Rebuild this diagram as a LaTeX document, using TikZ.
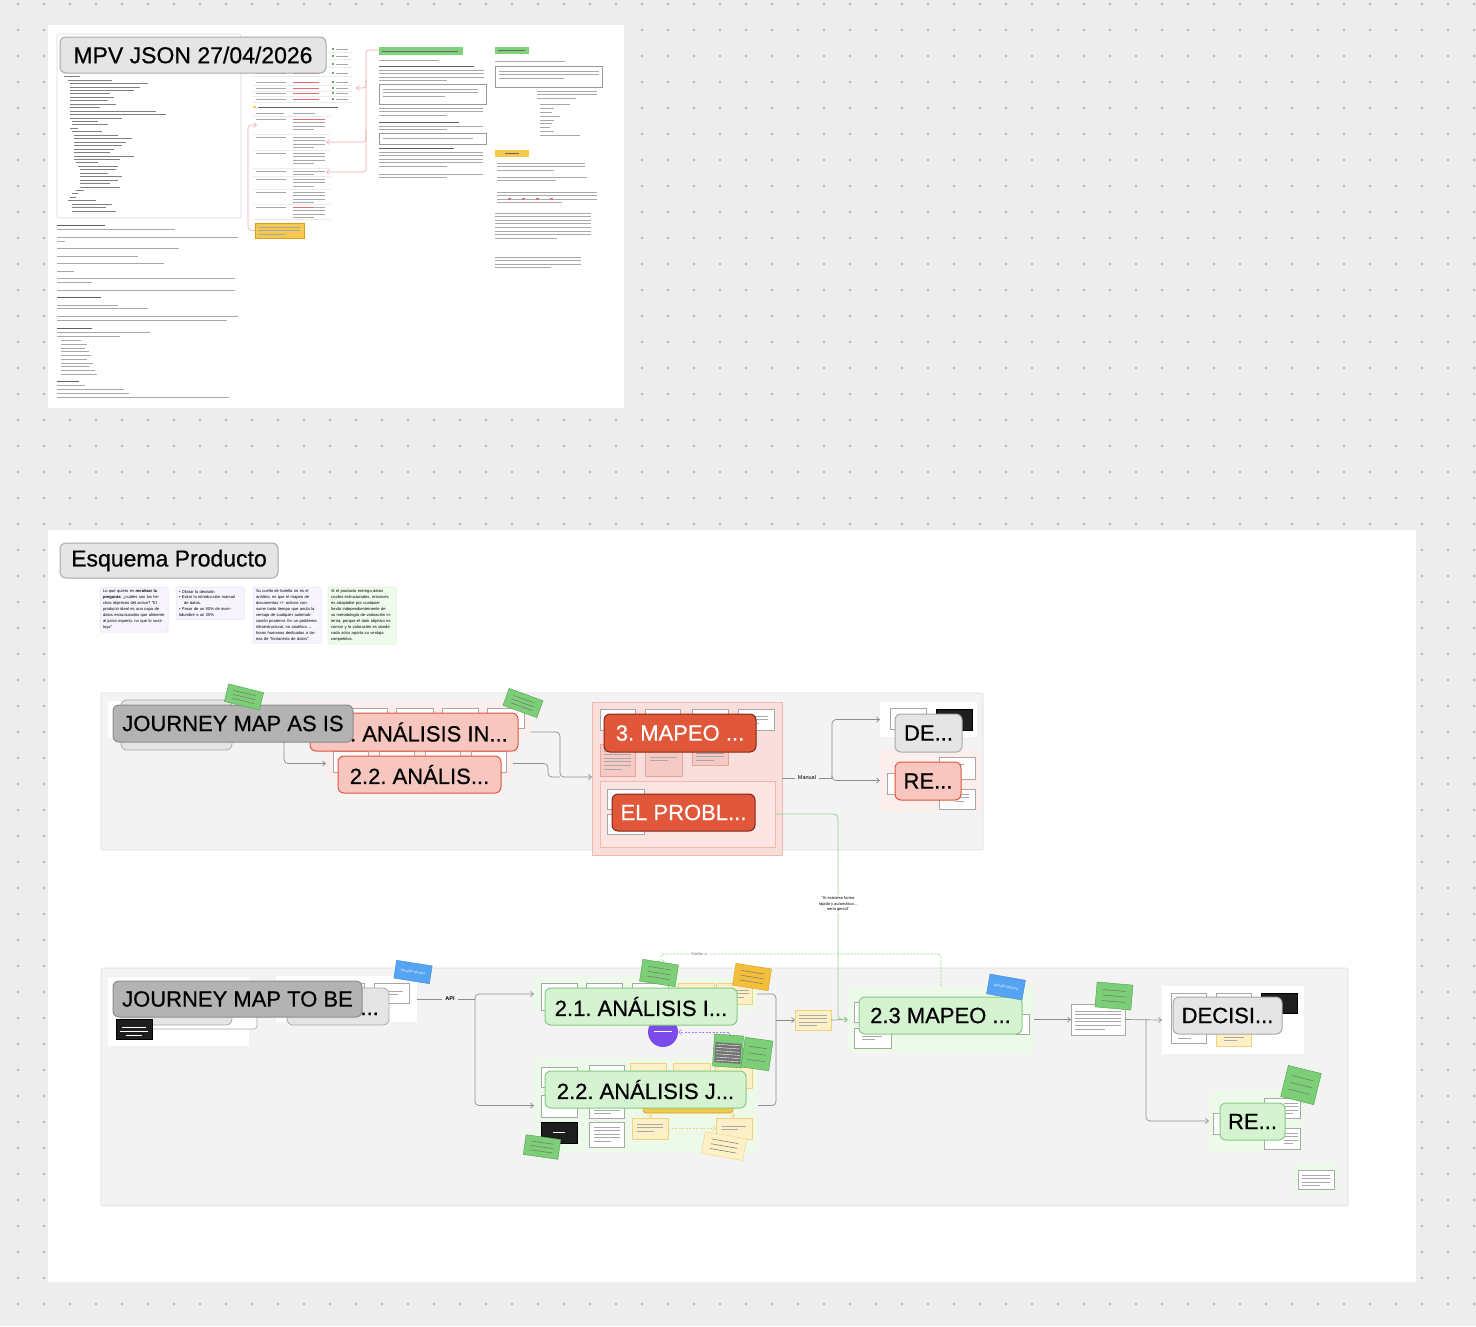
\documentclass[tikz,border=0pt]{standalone}
\usepackage{fontspec}
\setmainfont{Liberation Sans}
\newfontfamily\ttlfont[FakeBold=0.6]{Liberation Sans}
\usetikzlibrary{arrows.meta}
\definecolor{bg}{HTML}{EDEDED}
\definecolor{dotc}{HTML}{A3A3A3}
\definecolor{frm}{HTML}{F3F3F3}
\definecolor{frmd}{HTML}{DCDCDC}
\definecolor{txc}{HTML}{A8A8A8}
\definecolor{txd}{HTML}{606060}
\definecolor{txr}{HTML}{E27070}
\definecolor{conc}{HTML}{8E8E8E}
\definecolor{jmf}{HTML}{B3B3B3}
\definecolor{jmd}{HTML}{8C8C8C}
\definecolor{gyf}{HTML}{E5E5E5}
\definecolor{gyd}{HTML}{A9A9A9}
\definecolor{rdf}{HTML}{F6C6BF}
\definecolor{rdd}{HTML}{E2573C}
\definecolor{orf}{HTML}{E0573A}
\definecolor{ord}{HTML}{7D2816}
\definecolor{grf}{HTML}{D5F2D1}
\definecolor{grd}{HTML}{85CC80}
\definecolor{pkp}{HTML}{FCEEEC}
\definecolor{pkm}{HTML}{F9DFDC}
\definecolor{pkmd}{HTML}{F1B8AF}
\definecolor{pkbox}{HTML}{F6CAC4}
\definecolor{pkboxd}{HTML}{E9A397}
\definecolor{gnp}{HTML}{EDFAE9}
\definecolor{stg}{HTML}{7CCF77}
\definecolor{stgd}{HTML}{4E9E4A}
\definecolor{stb}{HTML}{55A3F3}
\definecolor{stbd}{HTML}{3C86D6}
\definecolor{sto}{HTML}{F4BE3A}
\definecolor{stod}{HTML}{D99E22}
\definecolor{yl}{HTML}{FDEFC6}
\definecolor{yld}{HTML}{F3D27C}
\definecolor{purp}{HTML}{7B4CEA}
\definecolor{npur}{HTML}{F7F4FE}
\definecolor{npurd}{HTML}{E4DDF7}
\definecolor{ngrn}{HTML}{EFFBEC}
\definecolor{ngrnd}{HTML}{D6EFD0}
\definecolor{glc}{HTML}{8FD88A}
\definecolor{blk}{HTML}{1E1E1E}
\definecolor{wbd}{HTML}{A8A8A8}
\definecolor{hdrg}{HTML}{7DD27A}
\definecolor{hdry}{HTML}{F6C84E}
\definecolor{pkl}{HTML}{F2A8A8}
\newcommand\fT{\ttlfont\fontsize{22}{26}\selectfont}
\newcommand\fH{\ttlfont\fontsize{23}{27}\selectfont}
\newcommand\bx[6]{\node[#6, minimum width={#4-#2}, minimum height={#5-#3}] (#1) at ({(#2+#4)/2},{(#3+#5)/2}) {};}
\newcommand\tbx[7]{\node[#6, minimum width={#4-#2}, minimum height={#5-#3}] (#1) at ({(#2+#4)/2},{(#3+#5)/2}) {#7};}
\newcommand\tl[4]{\foreach \j in {1,...,#4}{\draw[tx] (#1,{#2+(\j-1)*3.6}) -- ++({#3*((\j==#4)?0.65:1)},0);}}
\newcommand\stk[7]{\node[#7, minimum width=#4, minimum height=#5, rotate=#6] (#1) at (#2,#3) {};
\begin{scope}[shift={(#2,#3)}, rotate=#6]
\foreach \k in {0,1,2}{\draw[stx] ({-0.32*#4},{-0.22*#5+\k*0.22*#5}) -- ({0.32*#4},{-0.22*#5+\k*0.22*#5});}
\end{scope}}
\frenchspacing
\begin{document}
\frenchspacing
\begin{tikzpicture}[x=1pt,y=-1pt,
  bbox/.style={inner sep=0pt, outer sep=0pt},
  wb/.style={bbox, fill=white, draw=wbd, line width=0.6pt},
  bk/.style={bbox, fill=blk},
  yb/.style={bbox, fill=yl, draw=yld, line width=0.6pt},
  pb/.style={bbox, fill=pkbox, draw=pkboxd, line width=0.6pt},
  ttl/.style={bbox, rounded corners=6pt, line width=1pt, font=\fT},
  jm/.style={ttl, fill=jmf, draw=jmd},
  gy/.style={ttl, fill=gyf, draw=gyd},
  rdb/.style={ttl, fill=rdf, draw=rdd},
  orb/.style={ttl, fill=orf, draw=ord, text=white},
  grb/.style={ttl, fill=grf, draw=grd},
  conn/.style={draw=conc, line width=0.7pt, rounded corners=4pt},
  arr/.style={-{Straight Barb[length=3pt,width=5pt]}},
  tx/.style={draw=txc, line width=0.8pt},
  txb/.style={draw=txd, line width=0.9pt},
  txrd/.style={draw=txr, line width=0.8pt},
  stx/.style={draw=black!55, line width=0.5pt},
  sticky/.style={bbox, fill=stg, draw=stgd, line width=0.4pt},
  stickyo/.style={bbox, fill=sto, draw=stod, line width=0.4pt},
  stickyy/.style={bbox, fill=yl, draw=yld, line width=0.4pt},
  stickyb/.style={bbox, fill=stb, draw=stbd, line width=0.4pt, text=white, font=\fontsize{3.6}{4}\selectfont},
  note/.style={bbox, rounded corners=1.5pt, line width=0.5pt, inner sep=3pt, text width=62pt, align=left, font=\fontsize{4.1}{5.9}\selectfont, anchor=north west},
  small/.style={font=\fontsize{5.5}{6}\selectfont, inner sep=3pt},
  gline/.style={draw=glc, line width=0.8pt, rounded corners=4pt},
  gdash/.style={draw=glc, line width=0.7pt, dash pattern=on 2pt off 1.5pt, rounded corners=3pt},
  pdash/.style={draw=purp!70, line width=0.6pt, dash pattern=on 2pt off 1.5pt}
]
\useasboundingbox (0,0) rectangle (1476,1326);
\fill[bg] (0,0) rectangle (1476,1326);
\foreach \i in {0,...,56}{\foreach \j in {0,...,51}{\fill[dotc] ({18+26*\i},{4+26*\j}) circle (1.1);}}
% ---------------- top document frame
\fill[white] (48,25) rectangle (624,408);
\bx{codebox}{57}{34}{241}{218}{bbox, fill=white, draw=black!15, line width=0.6pt, rounded corners=2pt}
\foreach \ind/\len [count=\i] in {0/16,4/44,6/78,6/70,6/64,6/40,6/44,6/38,6/46,6/30,6/86,6/96,6/52,8/26,8/36,6/8,8/30,10/44,10/58,10/52,10/48,10/40,10/36,10/60,10/46,12/22,14/40,16/36,16/28,16/42,16/38,16/30,16/40,12/8,8/6,6/6,4/28,8/40,8/34,8/44}
  {\draw[draw=black!50, line width=0.6pt] ({64+\ind},{73+\i*3.45}) -- ++(\len,0);}
\foreach \y/\w in {229/118,237/181,241/8,248/122,256/81,263/107,271/17,278/178,282/35,290/178,305/61,308/91,316/181,320/170,332/93,336/63,385/28,389/67,393/72,397/172}
  {\draw[tx] (57,\y) -- ++(\w,0);}
\foreach \y/\w in {225/48,297/44,328/35,381/22}{\draw[txb] (57,\y) -- ++(\w,0);}
\foreach \w [count=\i] in {20,26,24,28,30,26,32,28,34,36}{\draw[tx] (61,{337+\i*3.7}) -- ++(\w,0);}
% tables
\foreach \y in {49,56,64,73,82,88,93,99}{\draw[tx] (256,\y) -- ++(30,0); \draw[txrd] (293,\y) -- ++(26,0); \fill[hdrg!80!black] (332,{\y-1.2}) rectangle ++(2.4,2.4); \draw[tx] (336,\y) -- ++(12,0); \draw[black!8, line width=0.4pt] (253,{\y+3.5}) -- (352,{\y+3.5});}
\fill[hdry] (253,105.5) rectangle ++(2.5,2.5);
\draw[txb] (258,107) -- ++(80,0);
\foreach \y in {116,134,150,168,176,189,204,219}{\draw[black!8, line width=0.4pt] (253,\y) -- (330,\y);}
\draw[tx] (256,113) -- ++(28,0); \draw[tx] (293,113) -- ++(22,0);
\foreach \y/\n in {119/4,137/4,153/4,171/2,179/3,192/4,207/4}{\draw[tx] (256,\y) -- ++(30,0); \tl{293}{\y}{32}{\n}}
\draw[txrd] (293,119) -- ++(32,0); \draw[txrd] (293,207) -- ++(20,0);
\bx{ynote}{255}{223}{304}{238}{bbox, fill=hdry, draw=stod, line width=0.5pt}
\tl{258}{227}{42}{3}
\draw[draw=pkl, line width=0.6pt, rounded corners=3pt, arr] (379,50) -- (366,50) -- (366,88) -- (356,88);
\draw[draw=pkl, line width=0.6pt, rounded corners=3pt, arr] (366,80) -- (366,142) -- (326,142);
\draw[draw=pkl, line width=0.6pt, rounded corners=3pt, arr] (366,130) -- (366,172) -- (326,172);
\draw[draw=pkl, line width=0.6pt, rounded corners=3pt, arr] (ynote.west) -- (248,230) -- (248,125) -- (257,125);
% column 3
\fill[hdrg] (379,47) rectangle (463,55); \draw[draw=black!60, line width=0.6pt] (382,51) -- (458,51);
\draw[tx] (379,60) -- ++(60,0);
\draw[txb] (379,66) -- ++(95,0); \tl{379}{70}{105}{4}
\bx{c3b1}{379}{84}{486}{104}{bbox, draw=black!40, line width=0.7pt, fill=white}
\tl{383}{89}{95}{3}
\tl{379}{108}{104}{3}
\draw[txb] (379,122) -- ++(80,0); \tl{379}{126}{104}{2}
\bx{c3b2}{379}{133}{486}{144}{bbox, draw=black!40, line width=0.7pt, fill=white}
\draw[tx] (383,138.5) -- ++(90,0);
\draw[txb] (379,148) -- ++(75,0); \tl{379}{152}{104}{5}
\tl{379}{174}{104}{2}
% column 4
\fill[hdrg] (495,47) rectangle (529,54); \draw[draw=black!60, line width=0.6pt] (498,50.5) -- (525,50.5);
\draw[tx] (495,61) -- ++(70,0);
\bx{c4b1}{495}{66}{602}{87}{bbox, draw=black!40, line width=0.7pt, fill=white}
\tl{499}{71}{100}{3}
\tl{537}{91}{60}{3}
\foreach \w [count=\i] in {30,14,12,20,14,12,10,14,40}{\draw[tx] (540,{101+\i*3.8}) -- ++(\w,0);}
\fill[hdry] (495,150) rectangle (529,157); \draw[draw=black!60, line width=0.6pt] (505,153.5) -- (519,153.5);
\tl{497}{163}{88}{3} \tl{497}{177}{90}{2}
\tl{497}{192}{100}{4}
\foreach \x in {508,522,536,550}{\fill[txr] (\x,{197.5}) rectangle ++(2.5,2.5);}
\tl{495}{213}{96}{8}
\tl{495}{257}{86}{4}
\tbx{mpv}{60}{37}{326}{73}{gy, font=\fH}{MPV JSON 27/04/2026}
% ---------------- bottom frame
\fill[white] (48,530) rectangle (1416,1282);
\tbx{esq}{60}{543}{278}{578}{gy, font=\fH}{Esquema Producto}
\node[note, fill=npur, draw=npurd] (n1) at (100,587) {Lo que quiero es \textbf{recobrar la pregunta}: ¿cuáles son los hechos objetivos del activo? "El producto ideal es una capa de datos estructurados que alimente al juicio experto, no que lo sustituya"};
\node[note, fill=npur, draw=npurd] (n2) at (176,587) {\hangindent=5pt\hangafter=1 •\ Dilatar la decisión\par\hangindent=5pt\hangafter=1 •\ Evitar la introducción manual de datos.\par\hangindent=5pt\hangafter=1 •\ Pasar de un 90\% de incertidumbre a un 20\%};
\node[note, fill=npur, draw=npurd] (n3) at (253,587) {Su cuello de botella no es el análisis, es que el mapeo de documentos +/- activos consume tanto tiempo que anula la ventaja de cualquier automatización posterior. Es un problema infraestructural, no analítico → horas humanas dedicadas a tareas de "fontanería de datos".};
\node[note, fill=ngrn, draw=ngrnd] (n4) at (328,587) {Si el producto entrega datos crudos estructurados, entonces es adaptable por cualquier fondo independientemente de su metodología de valoración interna, porque el dato objetivo es común y la valoración es donde cada actor aporta su ventaja competitiva.};
% ---------------- JOURNEY MAP AS IS
\bx{fas}{101}{693}{983}{850}{bbox, fill=frm, draw=frmd, line width=0.6pt, rounded corners=2pt}
\bx{wpas}{108}{701}{240}{738}{bbox, fill=white}
\bx{gs1}{121}{700}{232}{750}{bbox, fill=gyf, draw=gyd, line width=0.8pt, rounded corners=6pt}
\bx{p21as}{298}{702}{531}{737}{bbox, fill=pkp}
\foreach \a/\b in {352/387,396/433,442/478,487/524}{\draw[wb] (\a,708) rectangle (\b,728);}
\bx{p22as}{326}{748}{513}{779}{bbox, fill=pkp}
\foreach \a/\b in {333/368,379/414,425/460,471/506}{\draw[wb] (\a,751) rectangle (\b,772);}
\coordinate (c1) at (284,736);
\coordinate (j1) at (560,777);
\coordinate (j2) at (548,777);
\draw[conn, arr] (c1) |- (p22as.west);
\bx{b21as}{310}{713}{518}{751}{rdb}
\node[font=\fT, anchor=east, inner sep=0pt] (t21as) at (508,732) {2.1. ANÁLISIS IN...};
\tbx{b22as}{338}{756}{501}{793}{rdb}{2.2. ANÁLIS...}
\tbx{jmas}{113}{705}{353}{742}{jm}{JOURNEY MAP AS IS}
% mapeo panel
\bx{pmap}{592}{702}{782}{855}{bbox, fill=pkm, draw=pkmd, line width=0.6pt}
\foreach \a/\b in {600/635,645/680,692/728,738/774}{\draw[wb] (\a,709) rectangle (\b,730);}
\tl{742}{716}{26}{3}
\draw[pb] (600,744) rectangle (635,776); \tl{604}{751}{27}{6}
\draw[pb] (645,744) rectangle (682,776); \tl{650}{757}{27}{2}
\draw[pb] (692,744) rectangle (728,765); \tl{696}{753}{28}{3}
\bx{psub}{600}{781}{775}{847}{bbox, fill=pkm!80!white, draw=pkmd, line width=0.6pt}
\draw[wb] (607,789) rectangle (644,809);
\draw[wb] (607,814) rectangle (644,834);
\tbx{bmap}{604}{714}{756}{752}{orb}{3. MAPEO ...}
\tbx{bprob}{612}{794}{755}{831}{orb}{EL PROBL...}
\node[small] (man) at (807,778) {Manual};
\coordinate (j3) at (832,778);
\draw[conn] (pmap.east |- man) -- (man.west);
\draw[conn] (man.east) -- (j3);
% DE / RE
\bx{pde}{880}{702}{977}{737}{bbox, fill=white}
\draw[wb] (890,708) rectangle (926,729);
\draw[bk] (936,709) rectangle (972,730);
\bx{pre}{880}{750}{980}{811}{bbox, fill=pkp}
\draw[wb] (887,773) rectangle (897,794);
\draw[wb] (939,757) rectangle (975,779); \tl{955}{764}{14}{1}
\draw[wb] (939,789) rectangle (975,809); \tl{955}{794}{14}{3}
\draw[conn, arr] (j3) |- (pde.west);
\draw[conn, arr] (j3) |- (pre.west);
\tbx{bde}{895}{714}{962}{752}{gy}{DE...}
\tbx{bre}{895}{762}{961}{800}{rdb}{RE...}
\draw[conn, arr] (t21as.east -| p21as.east) -| (j1) -- (pmap.west |- j1);
\draw[conn] (p22as.east) -| (j2) -- (j1);
\stk{s1}{244}{697}{36}{18}{-14}{sticky}
\stk{s2}{523}{703}{36}{18}{-20}{sticky}
% ---------------- JOURNEY MAP TO BE
\bx{ftb}{101}{968}{1348}{1206}{bbox, fill=frm, draw=frmd, line width=0.6pt, rounded corners=2pt}
\bx{wptb}{108}{977}{249}{1046}{bbox, fill=white}
\bx{obox}{150}{985}{257}{1029}{wb, rounded corners=3pt}
\bx{gs2}{121}{985}{232}{1025}{bbox, fill=gyf, draw=gyd, line width=0.8pt, rounded corners=6pt}
\draw[bk] (116,1019) rectangle (152,1039);
\draw[draw=white, line width=0.5pt] (122,1027) -- (146,1027) (120,1031) -- (148,1031) (126,1035) -- (142,1035);
\bx{ptb2}{276}{976}{417}{1022}{bbox, fill=white}
\draw[wb] (347,983) rectangle (364,1003);
\draw[wb] (374,983) rectangle (409,1003); \tl{389}{991}{14}{2}
\bx{gs3}{287}{988}{389}{1025}{bbox, fill=gyf, draw=gyd, line width=0.8pt, rounded corners=6pt}
\node[font=\fT, anchor=base east, inner sep=0pt] (dots) at (379,1015) {...};
\tbx{jmtb}{113}{981}{362}{1017}{jm}{JOURNEY MAP TO BE}
\node[small, font=\bfseries\fontsize{5.5}{6}\selectfont] (api) at (450,999) {API};
\coordinate (b1) at (475,999);
\draw[conn] (ptb2.east) -- (api.west);
\draw[conn] (api.east) -- (b1);
% 2.1 panel
\bx{p21tb}{534}{977}{757}{1011}{bbox, fill=gnp}
\foreach \a/\b in {541/577,586/622,632/668}{\draw[wb] (\a,983) rectangle (\b,1010);}
\draw[yb] (678,983) rectangle (714,1004);
\draw[yb] (716,983) rectangle (752,1004); \tl{735}{990}{14}{3}
% 2.2 panel
\bx{p22tb}{534}{1058}{758}{1153}{bbox, fill=gnp}
\draw[wb] (541,1067) rectangle (577,1087);
\draw[wb] (589,1065) rectangle (624,1088);
\foreach \a/\b in {630/666,673/710,715/752}{\draw[yb] (\a,1063) rectangle (\b,1088);}
\draw[wb] (541,1095) rectangle (577,1117);
\draw[wb] (589,1095) rectangle (624,1118); \tl{594}{1110}{26}{2}
\draw[bbox, fill=hdry, draw=stod, line width=0.6pt, rounded corners=3pt] (643,1100) rectangle (733,1113);
\draw[bk] (541,1122) rectangle (577,1143); \draw[white, line width=0.5pt] (553,1132.5) -- (565,1132.5);
\draw[wb] (589,1122) rectangle (624,1147); \tl{594}{1127}{26}{5}
\draw[yb] (632,1118) rectangle (668,1139); \tl{637}{1124}{26}{3}
\draw[yb] (716,1118) rectangle (752,1139); \tl{722}{1126}{24}{2}
\draw[draw=yld, line width=0.6pt, dash pattern=on 2pt off 1.5pt, arr] (668,1128) -- (716,1128);
\draw[draw=yld, line width=0.5pt, arr] (650,1113) -- (650,1118);
\draw[draw=yld, line width=0.5pt, arr] (733,1113) -- (733,1118);
\draw[conn, arr] (b1) |- (p21tb.west);
\draw[conn, arr] (b1) |- (p22tb.west);
\coordinate (b2) at (776,1020);
\draw[conn] (p21tb.east) -| (b2);
\draw[conn] (p22tb.east) -| (b2);
\node[circle, fill=purp, minimum size=30, inner sep=0pt] (circ) at (663,1032) {};
\draw[white, line width=0.4pt] (654,1031) -- (672,1031);
\tbx{b21tb}{545}{988}{737}{1025}{grb}{2.1. ANÁLISIS I...}
\tbx{b22tb}{545}{1071}{746}{1108}{grb}{2.2. ANÁLISIS J...}
\tbx{doom}{795}{1010}{831}{1030}{yb}{}
\tl{799}{1015}{28}{4}
\draw[conn, arr] (b2) -- (doom.west);
% 2.3 panel
\bx{p23}{848}{986}{1034}{1053}{bbox, fill=gnp}
\draw[wb] (854,1002) rectangle (872,1022);
\draw[wb] (854,1028) rectangle (891,1048); \tl{862}{1036}{20}{2}
\draw[wb] (1016,1014) rectangle (1029,1034);
\tbx{b23}{859}{997}{1022}{1034}{grb}{2.3 MAPEO ...}
\draw[conn, arr] (doom.east) -- (p23.west);
\tbx{n23}{1071}{1004}{1125}{1035}{wb}{}
\tl{1075}{1011}{46}{6}
\draw[conn, arr] (p23.east) -- (n23.west);
% decision
\bx{pdec}{1162}{986}{1304}{1054}{bbox, fill=white}
\draw[wb] (1171,993) rectangle (1206,1043); \tl{1178}{1038}{20}{1}
\draw[wb] (1216,993) rectangle (1251,1013);
\draw[bk] (1261,993) rectangle (1297,1013);
\draw[yb] (1216,1033) rectangle (1251,1046); \tl{1224}{1037}{20}{2}
\tbx{bdec}{1173}{997}{1282}{1034}{gy}{DECISI...}
\bx{pre2}{1209}{1091}{1303}{1151}{bbox, fill=gnp}
\draw[wb] (1213,1113) rectangle (1222,1134);
\draw[wb] (1264,1098) rectangle (1300,1118); \tl{1284}{1103}{14}{4}
\draw[wb] (1264,1128) rectangle (1300,1149); \tl{1284}{1133}{14}{4}
\tbx{bre2}{1220}{1103}{1285}{1140}{grb}{RE...}
\coordinate (b3) at (1146,1020);
\draw[conn, arr] (n23.east) -- (pdec.west);
\draw[conn, arr] (b3) |- (pre2.west);
\bx{pbr}{1294}{1163}{1338}{1192}{bbox, fill=gnp}
\draw[wb] (1298,1170) rectangle (1334,1189); \tl{1302}{1175}{28}{4}
% connectors between maps
\node[font=\fontsize{4}{5.2}\selectfont, align=center, fill=white, inner sep=1.5pt] (qt) at (838,904) {"Si existiese forma\\rápido y automático...\\sería genial"};
\draw[gline] (psub.east) -| (qt.north);
\draw[gline, arr] (qt.south) |- (p23.west);
\node[font=\fontsize{4}{5}\selectfont, text=black!55, fill=white, inner sep=2pt] (sim) at (699,954) {Similar a};
\coordinate (sa1) at (941,986);
\coordinate (sa2) at (661,964);
\draw[gdash] (sa1) |- (sim.east);
\draw[gdash, arr] (sim.west) -| (sa2);
% stickies TO BE
\node[stickyb, minimum width=36, minimum height=18, rotate=-9] (sb1) at (413,972) {Desafío técnico};
\stk{sg1}{659}{973}{36}{22}{-9}{sticky}
\stk{so1}{752}{977}{36}{22}{-9}{stickyo}
\stk{dk}{728}{1051}{29}{32}{-4}{sticky}
\begin{scope}[shift={(728,1051)}, rotate=-4]
\fill[black!55] (-13,-8) rectangle (13,12);
\foreach \k in {0,...,5}{\draw[white, line width=0.4pt] (-12,{-6+\k*3.2}) -- (12,{-6+\k*3.2});}
\end{scope}
\stk{sg2}{757}{1054}{28}{30}{-8}{sticky}
\draw[pdash, arr] (dk.north) |- (circ.east);
\stk{sy1}{724}{1146}{42}{22}{-10}{stickyy}
\stk{sg3}{542}{1147}{35}{20}{-8}{sticky}
\node[stickyb, minimum width=36, minimum height=20, rotate=-10] (sb2) at (1006,987) {Desafío técnico};
\stk{sg4}{1114}{996}{36}{25}{-5}{sticky}
\stk{sg5}{1301}{1085}{34}{32}{-14}{sticky}
\end{tikzpicture}
\end{document}
